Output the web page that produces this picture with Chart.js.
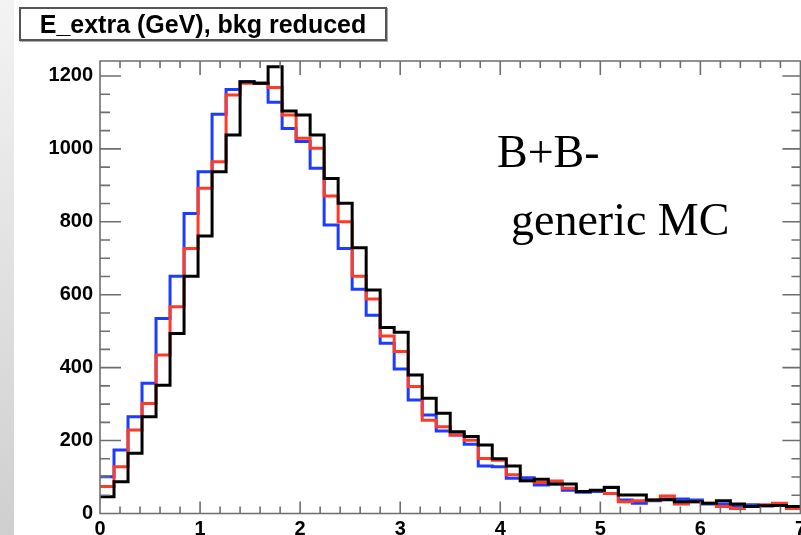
<!DOCTYPE html>
<html>
<head>
<meta charset="utf-8">
<script src="https://cdn.jsdelivr.net/npm/chart.js@4"></script>
<style>
  html, body { margin: 0; padding: 0; width: 801px; height: 535px; overflow: hidden; background: #fff; }
  #strip { position: absolute; left: 0; top: 0; width: 14px; height: 535px;
           background: linear-gradient(to bottom, #f3f3f3, #cfcfcf); }
  #wrap { position: absolute; left: 0; top: 0; width: 810px; height: 535px; }
  #title { position: absolute; left: 19px; top: 7px; width: 364px; height: 30px;
           border: 2px solid #555; box-shadow: 1px 1px 0 #aaa; background: #fff;
           font: bold 25px "Liberation Sans", Arial, sans-serif; color: #000;
           text-align: center; line-height: 30px; white-space: nowrap; }
  .note { position: absolute; font-family: "Liberation Serif", "Times New Roman", serif; color: #000; white-space: nowrap; }
</style>
</head>
<body>
<div id="strip"></div>
<div id="wrap"><canvas id="c" width="810" height="535"></canvas></div>
<div id="title">E_extra (GeV), bkg reduced</div>
<div class="note" style="left:497px; top:125px; font-size:46px;">B+B-</div>
<div class="note" style="left:511px; top:193px; font-size:46px;">generic MC</div>
<script>
/* ======================= DATA ======================= */
const X_MIN = 0;
const BIN_W = 0.14;           // 50 bins over 0..7 GeV
const X_TICKS = [0, 1, 2, 3, 4, 5, 6, 7];
const Y_TICKS = [0, 200, 400, 600, 800, 1000, 1200];

const BLUE = [101, 174, 265, 357, 535, 651, 823, 937, 1095, 1163,
              1184, 1180, 1128, 1056, 1020, 947, 791, 727, 615, 544,
              467, 396, 311, 270, 226, 215, 190, 130, 128, 97,
              98, 78, 81, 64, 58, 60, 72, 37, 28, 35,
              40, 40, 37, 26, 26, 22, 24, 21, 22, 17];
const RED = [74, 128, 229, 302, 435, 567, 727, 892, 965, 1148,
             1180, 1180, 1168, 1093, 1029, 1002, 871, 800, 651, 588,
             487, 444, 348, 256, 238, 215, 201, 151, 146, 106,
             90, 85, 89, 69, 60, 63, 55, 32, 35, 37,
             48, 26, 32, 28, 19, 14, 19, 24, 28, 14];
const BLACK = [46, 87, 165, 265, 352, 494, 651, 761, 937, 1038,
               1184, 1180, 1225, 1104, 1093, 1038, 919, 851, 729, 613,
               510, 497, 380, 316, 275, 224, 211, 188, 150, 130,
               90, 94, 81, 81, 60, 64, 71, 51, 51, 37,
               38, 32, 32, 28, 35, 26, 19, 21, 22, 19];

/* ======================= HELPERS ======================= */
// step outline: one point per left bin edge, plus the closing right edge
function histPoints(vals) {
  const pts = vals.map((v, i) => ({ x: X_MIN + i * BIN_W, y: v }));
  pts.push({ x: X_MIN + vals.length * BIN_W, y: vals[vals.length - 1] });
  return pts;
}

function histSet(vals, colour, order) {
  return {
    data: histPoints(vals),
    borderColor: colour,
    borderWidth: 3,
    stepped: true,
    pointRadius: 0,
    fill: false,
    order
  };
}

/* ======================= FRAME + TICKS ======================= */
const rootFrame = {
  id: 'rootFrame',
  afterDatasetsDraw(chart) {
    const { ctx, chartArea: a, scales: { x, y } } = chart;
    ctx.save();
    ctx.strokeStyle = '#6e6e6e';
    ctx.lineWidth = 1.6;
    ctx.beginPath();
    ctx.rect(a.left, a.top, a.right - a.left, a.bottom - a.top);
    for (let i = 0; i <= 35; i++) {
      const px = x.getPixelForValue(i * 0.2);
      const major = i % 5 === 0;
      ctx.moveTo(px, a.bottom); ctx.lineTo(px, a.bottom - (major ? 12 : 7));
      ctx.moveTo(px, a.top);    ctx.lineTo(px, a.top + (major ? 14 : 7));
    }
    for (let i = 0; i <= 24; i++) {
      const py = y.getPixelForValue(i * 50);
      const major = i % 4 === 0;
      ctx.moveTo(a.left, py);  ctx.lineTo(a.left + (major ? 21 : 10), py);
      ctx.moveTo(a.right, py); ctx.lineTo(a.right - (major ? 18 : 9), py);
    }
    ctx.stroke();
    ctx.restore();
  }
};

/* ======================= CHART ======================= */
const tickFont = { family: '"Liberation Sans", Arial, sans-serif', size: 20, weight: 'bold' };

new Chart(document.getElementById('c'), {
  type: 'line',
  data: {
    datasets: [
      histSet(BLACK, '#000000', 1),
      histSet(RED, '#ff3b26', 2),
      histSet(BLUE, '#1e3cff', 3)
    ]
  },
  options: {
    responsive: false,
    animation: false,
    layout: { padding: { left: 0, top: 61, right: 8, bottom: 0 } },
    plugins: { legend: { display: false }, tooltip: { enabled: false } },
    scales: {
      x: {
        type: 'linear',
        min: 0,
        max: 7,
        grid: { display: false, drawTicks: false },
        border: { display: false },
        afterBuildTicks: s => { s.ticks = X_TICKS.map(v => ({ value: v })); },
        afterFit: s => { s.height = 21.5; },
        ticks: { color: '#000', font: tickFont, padding: 4, maxRotation: 0, autoSkip: false,
                 callback: v => String(v) }
      },
      y: {
        min: 0,
        max: 1241,
        grid: { display: false, drawTicks: false },
        border: { display: false },
        afterBuildTicks: s => { s.ticks = Y_TICKS.map(v => ({ value: v })); },
        afterFit: s => { s.width = 100; },
        ticks: { color: '#000', font: tickFont, padding: 7, callback: v => String(v) }
      }
    }
  },
  plugins: [rootFrame]
});
</script>
</body>
</html>
